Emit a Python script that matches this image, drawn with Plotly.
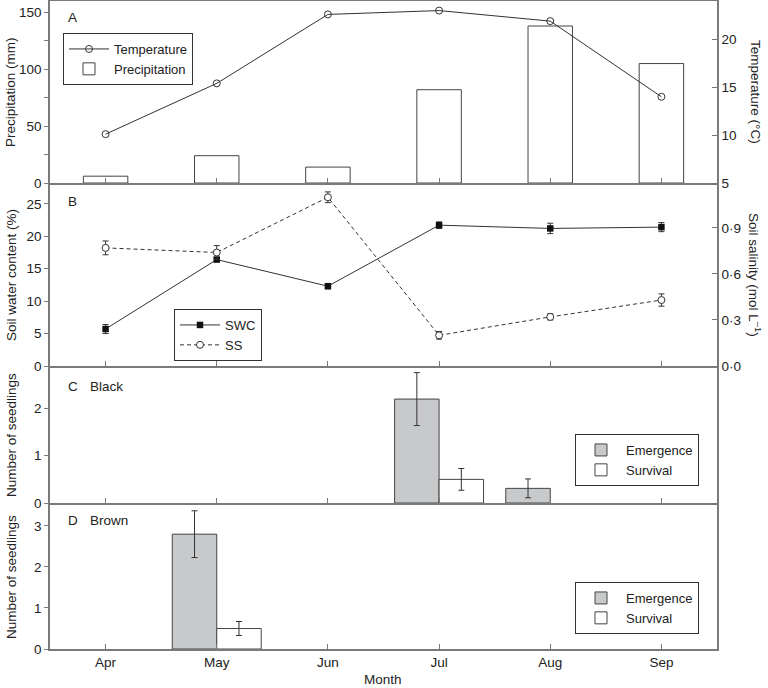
import plotly.graph_objects as go

months = ["Apr", "May", "Jun", "Jul", "Aug", "Sep"]

# Panel A
precip = [6, 24, 14, 82, 138, 105]
temperature = [10.1, 15.4, 22.6, 23.0, 21.9, 14.0]

# Panel B
swc = [5.7, 16.4, 12.3, 21.7, 21.2, 21.4]
swc_err = [0.7, 0.3, 0.4, 0.5, 0.8, 0.7]
ss = [0.77, 0.74, 1.10, 0.20, 0.32, 0.43]
ss_err = [0.045, 0.045, 0.035, 0.025, 0.02, 0.04]

# Panel C (Black)
black_em = [0, 0, 0, 2.2, 0.31, 0]
black_em_err = [0, 0, 0, 0.56, 0.2, 0]
black_sv = [0, 0, 0, 0.5, 0, 0]
black_sv_err = [0, 0, 0, 0.23, 0, 0]

# Panel D (Brown)
brown_em = [0, 2.8, 0, 0, 0, 0]
brown_em_err = [0, 0.57, 0, 0, 0, 0]
brown_sv = [0, 0.5, 0, 0, 0, 0]
brown_sv_err = [0, 0.17, 0, 0, 0, 0]

FONT = "Liberation Sans, Arial, Helvetica, sans-serif"
LINE = "#333333"
AX = "#7a7a7a"
GREY_FILL = "#c8c9cb"
FS = 13.5

# plot area in pixels: x 50..717, y 1..649
L, R, T, B = 50, 717, 1, 649
W, H = R - L, B - T


def px_x(x):
    return (x - L) / W


def px_y(y):
    return (B - y) / H


def shown(vals):
    # months with no seedlings draw no bar
    return [v if v else None for v in vals]


def shown_err(vals, errs):
    return [e if v else None for v, e in zip(vals, errs)]


dom_A = [px_y(183), 1]
dom_B = [px_y(366), px_y(183)]
dom_C = [px_y(503), px_y(366)]
dom_D = [0, px_y(503)]

fig = go.Figure()

# Panel A
fig.add_trace(go.Bar(x=months, y=precip, width=0.4, name="Precipitation",
                     marker=dict(color="white", line=dict(color="#444", width=1)),
                     xaxis="x", yaxis="y", legend="legend", legendrank=2))
fig.add_trace(go.Scatter(x=months, y=temperature, mode="lines+markers", name="Temperature",
                         line=dict(color=LINE, width=1),
                         marker=dict(symbol="circle-open", size=7, color=LINE, line=dict(width=1)),
                         xaxis="x", yaxis="y2", legend="legend", legendrank=1))

# Panel B
fig.add_trace(go.Scatter(x=months, y=swc, mode="lines+markers", name="SWC",
                         line=dict(color=LINE, width=1),
                         marker=dict(symbol="square", size=6.5, color="#111"),
                         error_y=dict(type="data", array=swc_err, color=LINE, thickness=1, width=3),
                         xaxis="x2", yaxis="y3", legend="legend2", legendrank=1))
fig.add_trace(go.Scatter(x=months, y=ss, mode="lines+markers", name="SS",
                         line=dict(color=LINE, width=1, dash="4px,3px"),
                         marker=dict(symbol="circle", size=7, color="white", line=dict(width=1, color=LINE)),
                         error_y=dict(type="data", array=ss_err, color=LINE, thickness=1, width=3),
                         xaxis="x2", yaxis="y4", legend="legend2", legendrank=2))

# Panel C
fig.add_trace(go.Bar(x=months, y=shown(black_em), name="Emergence", offsetgroup="em",
                     marker=dict(color=GREY_FILL, line=dict(color="#444", width=1)),
                     error_y=dict(type="data", array=shown_err(black_em, black_em_err),
                                  color=LINE, thickness=1, width=3),
                     xaxis="x3", yaxis="y5", legend="legend3"))
fig.add_trace(go.Bar(x=months, y=shown(black_sv), name="Survival", offsetgroup="sv",
                     marker=dict(color="white", line=dict(color="#444", width=1)),
                     error_y=dict(type="data", array=shown_err(black_sv, black_sv_err),
                                  color=LINE, thickness=1, width=3),
                     xaxis="x3", yaxis="y5", legend="legend3"))

# Panel D
fig.add_trace(go.Bar(x=months, y=shown(brown_em), name="Emergence", offsetgroup="em",
                     marker=dict(color=GREY_FILL, line=dict(color="#444", width=1)),
                     error_y=dict(type="data", array=shown_err(brown_em, brown_em_err),
                                  color=LINE, thickness=1, width=3),
                     xaxis="x4", yaxis="y6", legend="legend4"))
fig.add_trace(go.Bar(x=months, y=shown(brown_sv), name="Survival", offsetgroup="sv",
                     marker=dict(color="white", line=dict(color="#444", width=1)),
                     error_y=dict(type="data", array=shown_err(brown_sv, brown_sv_err),
                                  color=LINE, thickness=1, width=3),
                     xaxis="x4", yaxis="y6", legend="legend4"))

tickfont = dict(size=FS, family=FONT, color="#222")
xcommon = dict(range=[-0.5, 5.5], showline=True, linecolor=AX, linewidth=1.5,
               ticks="inside", ticklen=5, tickcolor=AX, tickwidth=1,
               showgrid=False, zeroline=False, type="category",
               categoryorder="array", categoryarray=months, tickfont=tickfont)
ycommon = dict(showline=True, linecolor=AX, linewidth=1.5, ticks="outside", ticklen=4,
               tickcolor=AX, tickwidth=1, showgrid=False, zeroline=False, tickfont=tickfont)
yright = dict(showline=True, linecolor=AX, linewidth=1.5, ticks="inside", ticklen=5,
              tickcolor=AX, tickwidth=1, showgrid=False, zeroline=False, side="right",
              tickfont=tickfont)

legcommon = dict(xanchor="left", yanchor="top", bordercolor="#333", borderwidth=1,
                 bgcolor="white", font=dict(size=13, family=FONT, color="#222"),
                 tracegroupgap=0, itemwidth=40)

fig.update_layout(
    width=768, height=688,
    margin=dict(l=L, r=768 - R, t=T, b=688 - B, autoexpand=False),
    paper_bgcolor="white", plot_bgcolor="white",
    font=dict(family=FONT, size=FS, color="#222"),
    barmode="group", bargap=0.2, bargroupgap=0,
    xaxis=dict(xcommon, domain=[0, 1], anchor="y", showticklabels=False, mirror=True),
    xaxis2=dict(xcommon, domain=[0, 1], anchor="y3", showticklabels=False),
    xaxis3=dict(xcommon, domain=[0, 1], anchor="y5", showticklabels=False),
    xaxis4=dict(xcommon, domain=[0, 1], anchor="y6", showticklabels=True),
    yaxis=dict(ycommon, domain=dom_A, anchor="x", range=[0, 160], tickvals=[0, 50, 100, 150],
               minor=dict(tickvals=[25, 75, 125], ticks="outside", ticklen=4, tickcolor=AX)),
    yaxis2=dict(yright, domain=dom_A, anchor="x", overlaying="y", range=[5, 24],
                tickvals=[5, 10, 15, 20]),
    yaxis3=dict(ycommon, domain=dom_B, anchor="x2", range=[0, 28.2],
                tickvals=[0, 5, 10, 15, 20, 25]),
    yaxis4=dict(yright, domain=dom_B, anchor="x2", overlaying="y3", range=[0, 1.193],
                tickvals=[0, 0.3, 0.6, 0.9], ticktext=["0·0", "0·3", "0·6", "0·9"]),
    yaxis5=dict(ycommon, domain=dom_C, anchor="x3", range=[0, 2.9], tickvals=[0, 1, 2],
                mirror=True),
    yaxis6=dict(ycommon, domain=dom_D, anchor="x4", range=[0, 3.56], tickvals=[0, 1, 2, 3],
                mirror=True),
    legend=dict(legcommon, x=px_x(63), y=px_y(33)),
    legend2=dict(legcommon, x=px_x(174), y=px_y(309)),
    legend3=dict(legcommon, x=px_x(575), y=px_y(434)),
    legend4=dict(legcommon, x=px_x(575), y=px_y(582)),
)

ann = []


def add_text(text, x, y, angle=0, xanchor="center", size=FS):
    ann.append(dict(text=text, xref="paper", yref="paper", x=px_x(x), y=px_y(y),
                    xanchor=xanchor, yanchor="middle", showarrow=False, textangle=angle,
                    font=dict(size=size, family=FONT, color="#222")))


add_text("A", 66, 17, xanchor="left")
add_text("B", 66, 201, xanchor="left")
add_text("C", 66, 386, xanchor="left")
add_text("Black", 88, 386, xanchor="left")
add_text("D", 66, 520, xanchor="left")
add_text("Brown", 88, 520, xanchor="left")

add_text("Precipitation (mm)", 11, 92, angle=-90)
add_text("Soil water content (%)", 11, 275, angle=-90)
add_text("Number of seedlings", 11, 435, angle=-90)
add_text("Number of seedlings", 11, 577, angle=-90)
add_text("Temperature (°C)", 755, 92, angle=90)
add_text("Soil salinity (mol L<sup>–1</sup>)", 755, 275, angle=90)
add_text("Month", 383, 679)

fig.update_layout(annotations=ann)

fig.write_html("out.html", config={"displayModeBar": False},
               post_script="document.body.style.margin='0px';document.body.style.overflow='hidden';")
